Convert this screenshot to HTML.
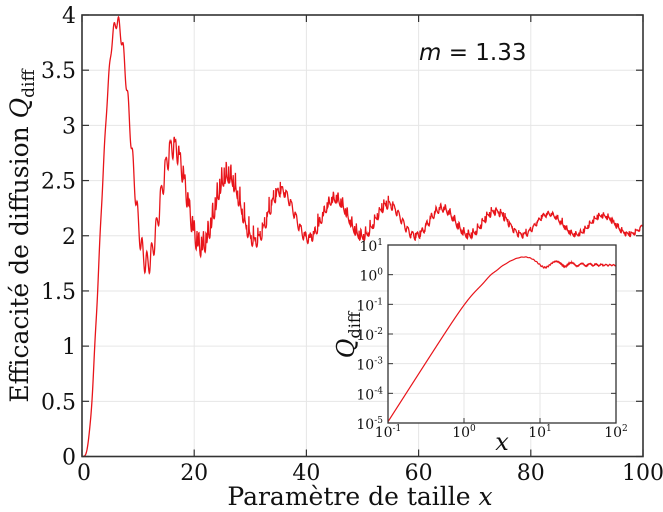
<!DOCTYPE html>
<html><head><meta charset="utf-8"><style>
html,body{margin:0;padding:0;background:#fff;}
svg{display:block;}
text{font-family:"DejaVu Serif","Liberation Serif",serif;fill:#111;}
</style></head><body>
<svg id="s" width="663" height="512" viewBox="0 0 663 512" xmlns="http://www.w3.org/2000/svg">
<g id="g"></g>
<text x="419" y="60" style="font-family:'DejaVu Sans','Liberation Sans',sans-serif;font-size:23px"><tspan font-style="italic">m</tspan> = 1.33</text>
<text x="360" y="505" text-anchor="middle" font-size="25">Paramètre de taille <tspan font-style="italic">x</tspan></text>
<text transform="translate(28,236) rotate(-90)" text-anchor="middle" font-size="25">Efficacité de diffusion <tspan font-style="italic">Q</tspan><tspan font-size="17" dy="6">diff</tspan></text>
</svg>
<script>
function qsca(m,x){
 var nmax=Math.round(x+4*Math.pow(x,1/3)+2);
 var mx=m*x, nmx=Math.round(Math.max(nmax,Math.abs(mx))+16);
 var D=new Array(nmx+1);D[nmx]=0;
 for(var n=nmx;n>=1;n--){D[n-1]=n/mx-1/(D[n]+n/mx);}
 var p0=Math.cos(x),p1=Math.sin(x),c0=-Math.sin(x),c1=Math.cos(x),Q=0;
 for(n=1;n<=nmax;n++){
  var p=(2*n-1)/x*p1-p0, c=(2*n-1)/x*c1-c0;
  var A=D[n]/m+n/x, B=m*D[n]+n/x;
  var na=A*p-p1, ra=A*p-p1, ia=-(A*c-c1);
  var nb=B*p-p1, rb=B*p-p1, ib=-(B*c-c1);
  Q+=(2*n+1)*(na*na/(ra*ra+ia*ia)+nb*nb/(rb*rb+ib*ib));
  p0=p1;p1=p;c0=c1;c1=c;
 }
 return 2*Q/(x*x);
}
var g=document.getElementById('g'),h='';
function L(x1,y1,x2,y2,c,w){h+='<line x1="'+x1+'" y1="'+y1+'" x2="'+x2+'" y2="'+y2+'" stroke="'+c+'" stroke-width="'+w+'"/>';}
function T(x,y,s,fs,a){h+='<text x="'+x+'" y="'+y+'" font-size="'+fs+'" text-anchor="'+(a||'middle')+'">'+s+'</text>';}
var X0=82,X1=643,Y0=456.5,Y1=15;
function px(v){return X0+v*(X1-X0)/100;} function py(v){return Y0-v*(Y0-Y1)/4;}
for(var v=0;v<=100;v+=20){var xx=px(v);L(xx,Y1,xx,Y0,'#e6e6e6',1);L(xx,Y0,xx,Y0-7,'#333',1.2);L(xx,Y1,xx,Y1+7,'#333',1.2);T(xx+(v==0?2:0),480,v,22);}
for(v=0;v<=4;v+=0.5){var yy=py(v);L(X0,yy,X1,yy,'#e6e6e6',1);L(X0,yy,X0+7,yy,'#333',1.2);L(X1,yy,X1-7,yy,'#333',1.2);T(76,yy+8,v,22,'end');}
var d='';for(var x=0.05;x<=100;x+=0.05){var q=qsca(1.33,x);d+=(d?'L':'M')+px(x).toFixed(2)+','+py(q).toFixed(2);}
h+='<path d="'+d+'" fill="none" stroke="#e8141a" stroke-width="1.3"/>';
h+='<rect x="'+X0+'" y="'+Y1+'" width="'+(X1-X0)+'" height="'+(Y0-Y1)+'" fill="none" stroke="#333" stroke-width="1.6"/>';
var a0=388,a1=616,b0=423,b1=245;
h+='<rect x="'+a0+'" y="'+b1+'" width="'+(a1-a0)+'" height="'+(b0-b1)+'" fill="#fff"/>';
function ix(v){return a0+(Math.log10(v)+1)*(a1-a0)/3;} function iy(v){return b0-(Math.log10(v)+5)*(b0-b1)/6;}
for(var e=-1;e<=2;e++){var xx=ix(Math.pow(10,e));L(xx,b1,xx,b0,'#e6e6e6',1);L(xx,b0,xx,b0-5,'#333',1);L(xx,b1,xx,b1+5,'#333',1);T(xx,437,'10<tspan font-size="9" dy="-6">'+e+'</tspan>',14);}
for(e=-5;e<=1;e++){var yy=iy(Math.pow(10,e));L(a0,yy,a1,yy,'#e6e6e6',1);L(a0,yy,a0+5,yy,'#333',1);L(a1,yy,a1-5,yy,'#333',1);T(383,yy+6,'10<tspan font-size="9" dy="-6">'+e+'</tspan>',14,'end');}
d='';for(var k=0;k<=1200;k++){var x=Math.pow(10,-1+3*k/1200);var q=qsca(1.33,x);d+=(d?'L':'M')+ix(x).toFixed(2)+','+iy(q).toFixed(2);}
h+='<path d="'+d+'" fill="none" stroke="#e8141a" stroke-width="1.2"/>';
h+='<rect x="'+a0+'" y="'+b1+'" width="'+(a1-a0)+'" height="'+(b0-b1)+'" fill="none" stroke="#333" stroke-width="1.3"/>';
h+='<text x="502" y="450" font-size="24" font-style="italic" text-anchor="middle">x</text>';
h+='<text transform="translate(354,335) rotate(-90)" font-size="24" text-anchor="middle"><tspan font-style="italic">Q</tspan><tspan font-size="16" dy="6">diff</tspan></text>';
g.innerHTML=h;
</script>
</body></html>
